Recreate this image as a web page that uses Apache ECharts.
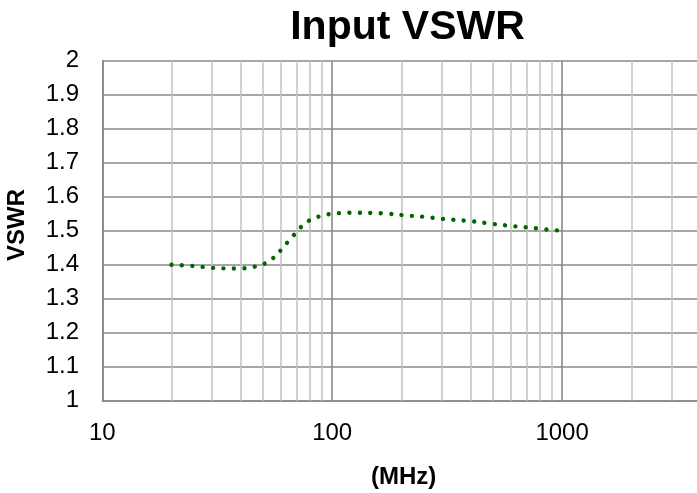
<!DOCTYPE html>
<html>
<head>
<meta charset="utf-8">
<script src="https://cdn.jsdelivr.net/npm/echarts@6/dist/echarts.min.js"></script>
<style>
html,body{margin:0;padding:0;background:#fff;overflow:hidden;width:697px;height:493px;}
#chart{width:792px;height:493px;}
</style>
</head>
<body>
<div id="chart"></div>
<script>
const titleText = 'Input VSWR';
const xName = '(MHz)';
const yName = 'VSWR';
const freqMHz = [20,25,30,35,40,45,50,55,60,65,70,75,80,90,100,110,125,150,175,200,250,300,400,500,600,700,800,900,1000];
const vswr = [1.400,1.396,1.391,1.389,1.389,1.393,1.401,1.418,1.444,1.472,1.496,1.518,1.531,1.544,1.550,1.552,1.553,1.552,1.550,1.546,1.541,1.535,1.528,1.520,1.514,1.510,1.506,1.502,1.500];
const minorGridX = [20,30,40,50,60,70,80,90,200,300,400,500,600,700,800,900,2000,3000,4000,5000,6000,7000,8000,9000];
const xMin = 10, xMax = 10000;
const yMin = 1, yMax = 2, yStep = 0.1;

const chart = echarts.init(document.getElementById('chart'));
const font = 'Liberation Sans, Arial, sans-serif';
const dark = '#898989';
const light = '#c2c2c2';

chart.setOption({
  animation: false,
  grid: {left: 102.3, top: 60.7, bottom: 92.3, right: 0, containLabel: false},
  xAxis: {
    type: 'log', logBase: 10, min: xMin, max: xMax, interval: 1,
    axisLine: {show: true, lineStyle: {color: dark, width: 1.6}},
    axisTick: {show: false},
    splitLine: {show: true, lineStyle: {color: dark, width: 1.6}},
    axisLabel: {color: '#000', fontFamily: font, fontSize: 24, margin: 32.7, verticalAlign: 'middle',
      showMaxLabel: false, formatter: v => String(Math.round(v))}
  },
  yAxis: {
    type: 'value', min: yMin, max: yMax, interval: yStep,
    axisLine: {show: true, lineStyle: {color: dark, width: 1.6}},
    axisTick: {show: false},
    splitLine: {show: true, lineStyle: {color: dark, width: 1.6}},
    axisLabel: {color: '#000', fontFamily: font, fontSize: 24, margin: 23.3,
      formatter: v => String(Math.round(v * 10) / 10)}
  },
  graphic: [
    {type: 'text', x: 407.5, y: 28, style: {text: titleText, fontFamily: font, fontWeight: 'bold', fontSize: 41, fill: '#000', align: 'center', verticalAlign: 'middle'}},
    {type: 'text', x: 403.7, y: 477, style: {text: xName, fontFamily: font, fontWeight: 'bold', fontSize: 24, fill: '#000', align: 'center', verticalAlign: 'middle'}},
    {type: 'text', x: 17.5, y: 225, rotation: Math.PI / 2, style: {text: yName, fontFamily: font, fontWeight: 'bold', fontSize: 24, fill: '#000', align: 'center', verticalAlign: 'middle'}}
  ],
  series: [
    {
      type: 'line', data: [], silent: true, z: 1,
      markLine: {
        silent: true, symbol: ['none', 'none'], label: {show: false},
        lineStyle: {color: light, type: 'solid', width: 1.5},
        emphasis: {disabled: true},
        animation: false,
        data: minorGridX.map(v => ({xAxis: v}))
      }
    },
    {
      type: 'line', z: 10,
      data: freqMHz.map((f, i) => [f, vswr[i]]),
      smooth: 0.4, showSymbol: false, symbol: 'none',
      lineStyle: {color: '#006400', width: 4.4, type: [0.01, 10.4], cap: 'round'}
    }
  ]
});
</script>
</body>
</html>
